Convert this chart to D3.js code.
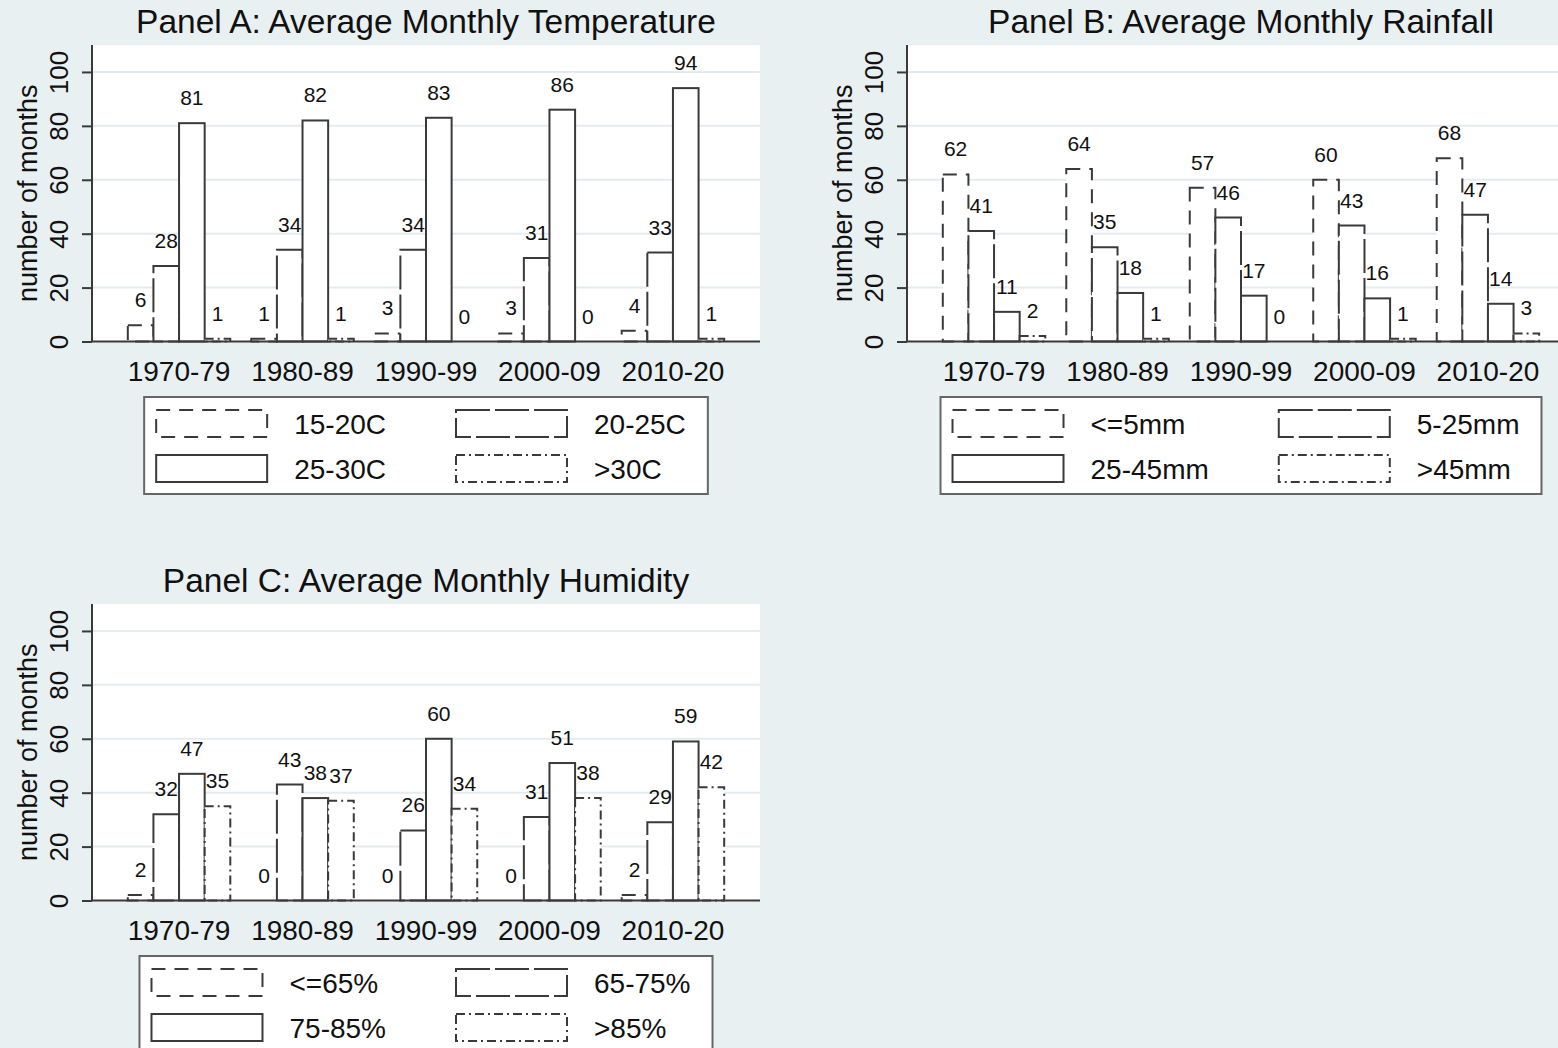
<!DOCTYPE html>
<html>
 <head>
  <title>Average Monthly Climate by Decade</title>
  <style>
  body {
   margin: 0;
   background-color: #e8f0f2;
  }
  svg {
   display: block;
   font-family: "Liberation Sans", Arial, sans-serif;
  }
  </style>
  <script src="https://cdnjs.cloudflare.com/ajax/libs/d3/7.8.3/d3.min.js"></script>
 </head>

 <body>
  <script>
   // decades on the category axis
   const decades = ["1970-79", "1980-89", "1990-99", "2000-09", "2010-20"];
   const yTicks = [0, 20, 40, 60, 80, 100];

   // Panel A: temperature bins, one row per bin, one value per decade
   const tempBins = ["15-20C", "20-25C", "25-30C", ">30C"];
   const tempCounts = [
    [6, 1, 3, 3, 4],
    [28, 34, 34, 31, 33],
    [81, 82, 83, 86, 94],
    [1, 1, 0, 0, 1]
   ];

   // Panel B: rainfall bins
   const rainBins = ["<=5mm", "5-25mm", "25-45mm", ">45mm"];
   const rainCounts = [
    [62, 64, 57, 60, 68],
    [41, 35, 46, 43, 47],
    [11, 18, 17, 16, 14],
    [2, 1, 0, 1, 3]
   ];

   // Panel C: humidity bins
   const humBins = ["<=65%", "65-75%", "75-85%", ">85%"];
   const humCounts = [
    [2, 0, 0, 0, 2],
    [32, 43, 26, 31, 29],
    [47, 38, 60, 51, 59],
    [35, 37, 34, 38, 42]
   ];

   const w = 1558;
   const h = 1048;
   const ink = "#111";
   const line = "#3a3a3a";
   // outline pattern of each bin, like the stata bar styles
   const dashes = ["14,9", "34,5", null, "9,4,2,4"];

   const svg = d3.select("body")
                 .append("svg")
                 .attr("width", w)
                 .attr("height", h);

   svg.append("rect")
      .attr("width", w)
      .attr("height", h)
      .attr("fill", "#e8f0f2");

   function drawPanel(ox, oy, title, bins, counts) {
    const left = ox + 92;
    const right = ox + 760;
    const top = oy + 45;
    const bottom = oy + 341.5;

    const g = svg.append("g");

    const xScale = d3.scaleBand()
                     .domain(decades)
                     .range([left, right])
                     .paddingInner(0.17)
                     .paddingOuter(0.29);
    const xInner = d3.scaleBand()
                     .domain(bins)
                     .range([0, xScale.bandwidth()]);
    const yScale = d3.scaleLinear()
                     .domain([0, 110])
                     .range([bottom, top]);

    // white plot region
    g.append("rect")
     .attr("x", left)
     .attr("y", top)
     .attr("width", right - left)
     .attr("height", bottom - top)
     .attr("fill", "white");

    // grid
    g.selectAll(".grid")
     .data(yTicks.slice(1))
     .enter()
     .append("line")
     .attr("x1", left)
     .attr("x2", right)
     .attr("y1", d => yScale(d))
     .attr("y2", d => yScale(d))
     .attr("stroke", "#e4ecef")
     .attr("stroke-width", 2);

    // bars
    const rows = counts.map((vals, i) => vals.map((v, j) => ({bin: bins[i], dash: dashes[i], dec: decades[j], v: v})));
    const bars = d3.merge(rows);
    g.selectAll(".bar")
     .data(bars)
     .enter()
     .append("rect")
     .attr("x", d => xScale(d.dec) + xInner(d.bin))
     .attr("y", d => yScale(d.v))
     .attr("width", xInner.bandwidth())
     .attr("height", d => yScale(0) - yScale(d.v))
     .attr("fill", "white")
     .attr("stroke", line)
     .attr("stroke-width", 2)
     .attr("stroke-dasharray", d => d.dash);

    g.selectAll(".lab")
     .data(bars)
     .enter()
     .append("text")
     .attr("x", d => xScale(d.dec) + xInner(d.bin) + xInner.bandwidth() / 2)
     .attr("y", d => yScale(d.v) - 18)
     .attr("text-anchor", "middle")
     .attr("font-size", 21)
     .attr("fill", ink)
     .text(d => d.v);

    // axes
    const yAxis = d3.axisLeft(yScale)
                    .tickValues(yTicks)
                    .tickSize(10)
                    .tickPadding(4)
                    .tickFormat(d => d);
    const ya = g.append("g")
                .attr("transform", "translate(" + left + ",0)")
                .call(yAxis);
    ya.select(".domain")
      .attr("d", "M0," + top + "V" + bottom)
      .attr("stroke", line)
      .attr("stroke-width", 2);
    ya.selectAll(".tick line")
      .attr("stroke", line)
      .attr("stroke-width", 2);
    ya.selectAll(".tick text")
      .attr("font-size", 26)
      .attr("fill", ink)
      .attr("x", null)
      .attr("dy", null)
      .attr("text-anchor", "middle")
      .attr("transform", "translate(-24,0) rotate(-90)");

    const xAxis = d3.axisBottom(xScale)
                    .tickSize(0)
                    .tickPadding(16);
    const xa = g.append("g")
                .attr("transform", "translate(0," + bottom + ")")
                .call(xAxis);
    xa.select(".domain")
      .attr("d", "M" + left + ",0H" + right)
      .attr("stroke", line)
      .attr("stroke-width", 2);
    xa.selectAll(".tick text")
      .attr("font-size", 28)
      .attr("fill", ink)
      .attr("dy", null)
      .attr("y", 39);

    g.append("text")
     .attr("transform", "translate(" + (ox + 37) + "," + ((top + bottom) / 2) + ") rotate(-90)")
     .attr("text-anchor", "middle")
     .attr("font-size", 27)
     .attr("fill", ink)
     .text("number of months");

    g.append("text")
     .attr("x", (left + right) / 2)
     .attr("y", oy + 33)
     .attr("text-anchor", "middle")
     .attr("font-size", 33.5)
     .attr("fill", ink)
     .text(title);

    // legend, two columns, centered under the plot
    const legend = g.append("g");
    const box = legend.append("rect")
                      .attr("fill", "white")
                      .attr("stroke", "#666")
                      .attr("stroke-width", 2);
    const labels = legend.selectAll(".leg")
                         .data(bins)
                         .enter()
                         .append("text")
                         .attr("font-size", 28)
                         .attr("fill", ink)
                         .text(d => d);
    const widths = [];
    labels.each(function(d, i) { widths[i] = this.getComputedTextLength(); });
    const col1 = Math.max(widths[0], widths[2]);
    const col2 = Math.max(widths[1], widths[3]);
    const keyW = 111, keyH = 27, pad = 12, gap = 27, colGap = 70, rpad = 22;
    const boxW = pad + keyW + gap + col1 + colGap + keyW + gap + col2 + rpad;
    const bx = (left + right) / 2 - boxW / 2;
    const by = oy + 397;
    box.attr("x", bx)
       .attr("y", by)
       .attr("width", boxW)
       .attr("height", 97);
    const keyX = i => bx + pad + (i % 2) * (keyW + gap + col1 + colGap);
    const keyY = i => by + 13 + Math.floor(i / 2) * 45;
    legend.selectAll(".key")
          .data(bins)
          .enter()
          .append("rect")
          .attr("x", (d, i) => keyX(i))
          .attr("y", (d, i) => keyY(i))
          .attr("width", keyW)
          .attr("height", keyH)
          .attr("fill", "white")
          .attr("stroke", line)
          .attr("stroke-width", 2)
          .attr("stroke-dasharray", (d, i) => dashes[i]);
    labels.attr("x", (d, i) => keyX(i) + keyW + gap)
          .attr("y", (d, i) => keyY(i) + keyH / 2 + 10);
   }

   drawPanel(0, 0, "Panel A: Average Monthly Temperature", tempBins, tempCounts);
   drawPanel(815, 0, "Panel B: Average Monthly Rainfall", rainBins, rainCounts);
   drawPanel(0, 559, "Panel C: Average Monthly Humidity", humBins, humCounts);
  </script>
 </body>
</html>
